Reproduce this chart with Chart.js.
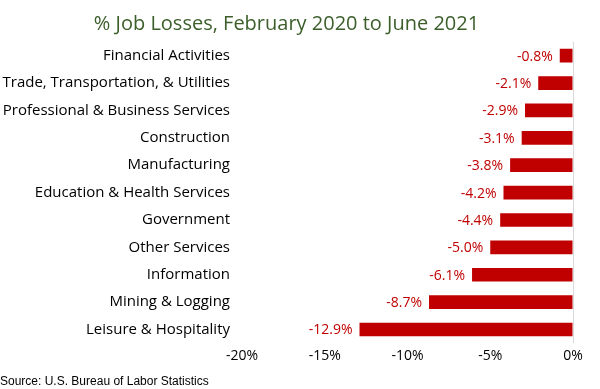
<!DOCTYPE html>
<html>
<head>
<meta charset="utf-8">
<script src="https://cdn.jsdelivr.net/npm/chart.js@4/dist/chart.umd.min.js"></script>
<style>
  body { margin: 0; background: #fff; }
  #wrap { width: 600px; height: 389px; position: relative; }
</style>
</head>
<body>
<div id="wrap"><canvas id="jobs"></canvas></div>
<script>
const categories = [
  'Financial Activities',
  'Trade, Transportation, & Utilities',
  'Professional & Business Services',
  'Construction',
  'Manufacturing',
  'Education & Health Services',
  'Government',
  'Other Services',
  'Information',
  'Mining & Logging',
  'Leisure & Hospitality',
];
const losses = [-0.8, -2.1, -2.9, -3.1, -3.8, -4.2, -4.4, -5.0, -6.1, -8.7, -12.9];
const xTickValues = [-20, -15, -10, -5, 0];

const titleText = '% Job Losses, February 2020 to June 2021';
const sourceText = 'Source: U.S. Bureau of Labor Statistics';

const barRed = '#c00000';
const labelFont = '"Open Sans", sans-serif';

// value labels to the left of each bar
const barLabels = {
  id: 'barLabels',
  afterDatasetsDraw(chart) {
    const ctx = chart.ctx;
    const meta = chart.getDatasetMeta(0);
    ctx.save();
    ctx.font = '14px ' + labelFont;
    ctx.fillStyle = barRed;
    ctx.textAlign = 'right';
    ctx.textBaseline = 'middle';
    meta.data.forEach((bar, i) => {
      ctx.fillText(losses[i].toFixed(1) + '%', bar.x - 7, bar.y + 1);
    });
    ctx.restore();
  },
};

const sourceNote = {
  id: 'sourceNote',
  afterDraw(chart) {
    const ctx = chart.ctx;
    ctx.save();
    ctx.font = '12px "Liberation Sans", Arial, sans-serif';
    ctx.fillStyle = '#000';
    ctx.textAlign = 'left';
    ctx.textBaseline = 'middle';
    ctx.fillText(sourceText, 0, 382);
    ctx.restore();
  },
};

new Chart(document.getElementById('jobs'), {
  type: 'bar',
  data: {
    labels: categories,
    datasets: [
      {
        data: losses,
        backgroundColor: barRed,
        categoryPercentage: 1,
        barPercentage: 0.5,
      },
    ],
  },
  options: {
    indexAxis: 'y',
    responsive: true,
    maintainAspectRatio: false,
    animation: false,
    layout: {
      padding: { left: 0, right: 27, top: 0, bottom: 21 },
    },
    plugins: {
      legend: { display: false },
      tooltip: { enabled: false },
      title: {
        display: true,
        text: titleText,
        color: '#3b5e2b',
        font: { family: labelFont, size: 20, weight: 'normal' },
        padding: { top: 12, bottom: 6 },
      },
    },
    scales: {
      x: {
        min: -20,
        max: 0,
        afterBuildTicks(scale) {
          scale.ticks = xTickValues.map((v) => ({ value: v }));
        },
        ticks: {
          color: '#000',
          padding: 4,
          font: { family: labelFont, size: 14 },
          callback: (v) => v + '%',
        },
        grid: {
          drawTicks: false,
          color: (c) => (c.tick && c.tick.value === 0 ? '#d9d9d9' : 'transparent'),
        },
        border: { display: false },
      },
      y: {
        afterFit(scale) {
          scale.width = 242;
        },
        ticks: {
          color: '#000',
          padding: 4,
          font: { family: labelFont, size: 15 },
        },
        grid: { display: false },
        border: { display: false },
      },
    },
  },
  plugins: [barLabels, sourceNote],
});
</script>
</body>
</html>
